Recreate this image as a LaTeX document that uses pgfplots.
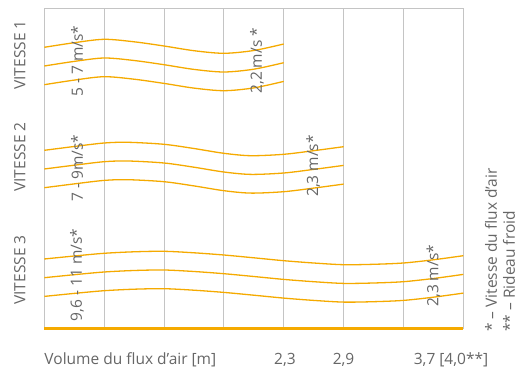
\documentclass[border=0pt]{standalone}
\usepackage{pgfplots}
\pgfplotsset{compat=1.18}
\usepackage{fontspec}
\setmainfont{Open Sans}
\definecolor{gridgray}{HTML}{C4C4C4}
\definecolor{wave}{HTML}{F5AA00}
\definecolor{txt}{HTML}{666666}
\pgfplotsset{
    wavy/.style={wave, line width=1.3bp, smooth, no markers},
}
\tikzset{
    lbl/.style={font=\fontsize{15.5bp}{17bp}\selectfont, text=txt, inner sep=0pt},
}
\begin{document}
\begin{tikzpicture}
\useasboundingbox (0,0) rectangle (520bp,369bp);
\begin{axis}[
    at={(44.3bp,40.7bp)}, anchor=south west,
    scale only axis, width=419bp, height=320bp,
    xmin=0, xmax=7, ymin=0, ymax=320,
    xtick={0,...,7}, xticklabels={}, ytick=\empty,
    major tick length=0pt,
    xmajorgrids,
    grid style={gridgray, line width=1bp},
    axis line style={gridgray, line width=1bp},
    clip=false,
]
% VITESSE 1
\addplot [wavy] coordinates {(0,281) (0.5,285.6) (1,289) (1.5,286.5) (2,282.3) (2.5,277.6) (3,275) (3.5,277.8) (4,284.3)};
\addplot [wavy] coordinates {(0,262.3) (0.5,266.9) (1,270.3) (1.5,267.8) (2,263.6) (2.5,258.9) (3,256.3) (3.5,259.1) (4,265.6)};
\addplot [wavy] coordinates {(0,243.6) (0.5,248.2) (1,251.6) (1.5,249.1) (2,244.9) (2.5,240.2) (3,237.6) (3.5,240.4) (4,246.9)};
% VITESSE 2
\addplot [wavy] coordinates {(0,178) (0.5,181.8) (1,185.3) (1.4,186) (2,184) (2.5,179.8) (3,175) (3.45,172.6) (4,174) (4.5,177.6) (5,181.6)};
\addplot [wavy] coordinates {(0,159.3) (0.5,163.1) (1,166.6) (1.4,167.3) (2,165.3) (2.5,161.1) (3,156.3) (3.45,153.9) (4,155.3) (4.5,158.9) (5,162.9)};
\addplot [wavy] coordinates {(0,140.6) (0.5,144.4) (1,147.9) (1.4,148.6) (2,146.6) (2.5,142.4) (3,137.6) (3.45,135.2) (4,136.6) (4.5,140.2) (5,144.2)};
% VITESSE 3
\addplot [wavy] coordinates {(0,69.3) (0.5,72.3) (1,75) (1.5,76.5) (2,77) (2.5,75.5) (3,73.3) (3.5,70.5) (4,67.6) (4.5,65.3) (5,63.6) (5.5,64) (6,65.3) (6.5,68.5) (7,72.6)};
\addplot [wavy] coordinates {(0,50.6) (0.5,53.6) (1,56.3) (1.5,57.8) (2,58.3) (2.5,56.8) (3,54.6) (3.5,51.8) (4,48.9) (4.5,46.6) (5,44.9) (5.5,45.3) (6,46.6) (6.5,49.8) (7,53.9)};
\addplot [wavy] coordinates {(0,31.9) (0.5,34.9) (1,37.6) (1.5,39.1) (2,39.6) (2.5,38.1) (3,35.9) (3.5,33.1) (4,30.2) (4.5,27.9) (5,26.2) (5.5,26.6) (6,27.9) (6.5,31.1) (7,35.2)};
% orange base line
\addplot [wave, line width=2.6bp, no markers] coordinates {(0,0) (7,0)};

% group names
\node [lbl, rotate=90] at (axis cs:-0.41,273.3) {VITESSE 1};
\node [lbl, rotate=90] at (axis cs:-0.41,171.3) {VITESSE 2};
\node [lbl, rotate=90] at (axis cs:-0.41,58.3) {VITESSE 3};
% speeds
\node [lbl, rotate=90] at (axis cs:0.546,267.3) {5 - 7 m/s*};
\node [lbl, rotate=90] at (axis cs:3.554,267.5) {2,2 m/s *};
\node [lbl, rotate=90] at (axis cs:0.546,160) {7 - 9m/s*};
\node [lbl, rotate=90] at (axis cs:4.495,162.3) {2,3 m/s*};
\node [lbl, rotate=90] at (axis cs:0.546,53.3) {9,6 - 11 m/s*};
\node [lbl, rotate=90] at (axis cs:6.5,52.5) {2,3 m/s*};
% footnotes
\node [lbl, rotate=90, anchor=west] at (axis cs:7.464,-3.7) {* – Vitesse du flux d'air};
\node [lbl, rotate=90, anchor=west] at (axis cs:7.765,-3.7) {** – Rideau froid};
% bottom labels
\node [lbl, anchor=west] at (axis cs:0,-31.5) {Volume du flux d'air [m]};
\node [lbl] at (axis cs:4.02,-31.5) {2,3};
\node [lbl] at (axis cs:5.0,-31.5) {2,9};
\node [lbl] at (axis cs:6.795,-31.5) {3,7 [4,0**]};
\end{axis}
\end{tikzpicture}
\end{document}
